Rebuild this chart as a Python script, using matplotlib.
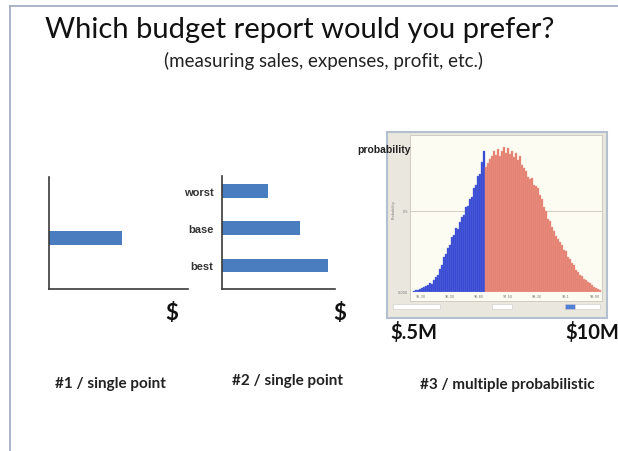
import matplotlib.pyplot as plt
from matplotlib.patches import Rectangle
from matplotlib.lines import Line2D

W, H = 618, 452

# chart 1: one single estimate
single_value = [5.25]

# chart 2: three scenarios
scenarios = ['worst', 'base', 'best']
scenario_values = [4.1, 6.9, 9.4]

# chart 3: simulated distribution (bin heights)
blue_bins = [1, 2, 2, 3, 4, 5, 6, 7, 9, 8, 12, 15, 17, 23, 27, 35, 38, 44,
             47, 55, 57, 64, 63, 70, 75, 77, 85, 86, 93, 95, 104, 107, 116,
             118, 130, 141]
red_bins = [125, 129, 133, 136, 141, 137, 143, 136, 141, 145, 139, 144, 138,
            141, 135, 139, 132, 136, 127, 124, 121, 115, 113, 114, 107, 106,
            104, 97, 93, 85, 81, 73, 71, 65, 61, 56, 53, 50, 47, 42, 41, 35,
            33, 29, 27, 22, 20, 17, 16, 13, 12, 10, 9, 7, 5, 4, 3, 2]
hist_ticks = ['95.30', '96.00', '96.80', '97.50', '98.30', '99.1', '99.90']

BLUE = '#4a7cc0'
AXIS = '#3a3a3a'
FONT = 'Lato'


def fx(px):
    return px / W


def fy(py):
    return 1 - py / H


def add_ax(x0, y0, x1, y1):
    # box given in picture pixels (top-left origin)
    return fig.add_axes([fx(x0), fy(y1), (x1 - x0) / W, (y1 - y0) / H])


fig = plt.figure(figsize=(W / 100, H / 100), dpi=100)
fig.patch.set_facecolor('white')

# slide frame
fig.add_artist(Line2D([fx(10), 1], [fy(7), fy(7)], color='#a3afc3', lw=1.3))
fig.add_artist(Line2D([fx(10), fx(10)], [fy(7), 0], color='#a3afc3', lw=1.3))

fig.text(fx(300), fy(30), 'Which budget report would you prefer?',
         family=FONT, fontsize=21, ha='center', va='center', color='#111111')
fig.text(fx(324), fy(61), '(measuring sales, expenses, profit, etc.)',
         family=FONT, fontsize=13.5, ha='center', va='center', color='#222222')

# --- chart 1
ax1 = add_ax(49, 178, 188, 290)
ax1.barh([0.455], single_value, height=0.125, color=BLUE)
ax1.set_xlim(0, 10)
ax1.set_ylim(0, 1)
ax1.set_xticks([])
ax1.set_yticks([])
for s in ['top', 'right']:
    ax1.spines[s].set_visible(False)
for s in ['left', 'bottom']:
    ax1.spines[s].set_color(AXIS)
    ax1.spines[s].set_linewidth(1.2)
ax1.patch.set_alpha(0)

# --- chart 2
ax2 = add_ax(222, 177, 335, 290)
ax2.barh(range(len(scenarios)), scenario_values, height=0.37, color=BLUE)
ax2.set_xlim(0, 10)
ax2.set_ylim(2.63, -0.39)
ax2.set_xticks([])
ax2.set_yticks(range(len(scenarios)))
ax2.set_yticklabels(scenarios, family='Liberation Sans', fontweight='bold',
                    fontsize=8, color='#333333')
ax2.tick_params(axis='y', length=0, pad=6)
for s in ['top', 'right']:
    ax2.spines[s].set_visible(False)
for s in ['left', 'bottom']:
    ax2.spines[s].set_color(AXIS)
    ax2.spines[s].set_linewidth(1.2)
ax2.patch.set_alpha(0)

fig.text(fx(172), fy(313), '$', family=FONT, fontweight='bold', fontsize=16,
         ha='center', va='center', color='#111111')
fig.text(fx(340), fy(313), '$', family=FONT, fontweight='bold', fontsize=16,
         ha='center', va='center', color='#111111')

# --- chart 3: screenshot-like panel (behind the axes)
fig.add_artist(Rectangle((fx(387), fy(319)), 220 / W, 186 / H,
                         transform=fig.transFigure, facecolor='#e9e7de',
                         edgecolor='#b4bfd0', lw=1.5, zorder=-2))
fig.add_artist(Rectangle((fx(410), fy(302)), 192 / W, 166 / H,
                         transform=fig.transFigure, facecolor='#fcfcf2',
                         edgecolor='#c9c7bb', lw=0.6, zorder=-1))
# toolbar fields
for x0, x1, c in [(393, 440, 'white'), (492, 512, 'white'),
                  (565, 575, '#4f7fd6'), (575, 600, 'white')]:
    fig.add_artist(Rectangle((fx(x0), fy(310)), (x1 - x0) / W, 5 / H,
                             transform=fig.transFigure, facecolor=c,
                             edgecolor='#c8c8c8', lw=0.4, zorder=-1))

ax3 = add_ax(410, 136, 602, 293)
nb = len(blue_bins)
ax3.bar([i + 0.5 for i in range(nb)], blue_bins, width=1.0,
        color='#2c3fd0', edgecolor='#6f7fe0', lw=0.3)
ax3.bar([nb + i + 0.5 for i in range(len(red_bins))], red_bins, width=1.0,
        color='#e27a6b', edgecolor='#eea597', lw=0.3)
ax3.set_xlim(-1.5, 94.5)
ax3.set_ylim(0, 157)
ax3.axhline(81, color='#c9c8b8', lw=0.6, zorder=0)
ax3.patch.set_alpha(0)
ax3.set_yticks([0, 81])
ax3.set_yticklabels(['0.000', '0.5'], fontsize=2.5, color='#777777')
ax3.set_xticks([4 + i * 14.5 for i in range(len(hist_ticks))])
ax3.set_xticklabels(hist_ticks, fontsize=2.5, color='#777777')
ax3.tick_params(length=0, pad=1.5)
for s in ax3.spines.values():
    s.set_visible(False)
fig.text(fx(394), fy(210), 'Probability', rotation=90, fontsize=2.5,
         color='#777777', ha='center', va='center')

fig.text(fx(384), fy(150), 'probability', family='Liberation Sans',
         fontweight='bold', fontsize=7.5, ha='center', va='center',
         color='#222222')
fig.text(fx(414), fy(332), '$.5M', family=FONT, fontweight='bold',
         fontsize=14.5, ha='center', va='center', color='#111111')
fig.text(fx(592), fy(332), '$10M', family=FONT, fontweight='bold',
         fontsize=14.5, ha='center', va='center', color='#111111')

# captions
for x, y, t in [(110, 384, '#1 / single point'),
                (287, 381, '#2 / single point'),
                (507, 385, '#3 / multiple probabilistic')]:
    fig.text(fx(x), fy(y), t, family=FONT, fontweight='bold', fontsize=11,
             ha='center', va='center', color='#222222')

fig.savefig('out.png', dpi=100)
